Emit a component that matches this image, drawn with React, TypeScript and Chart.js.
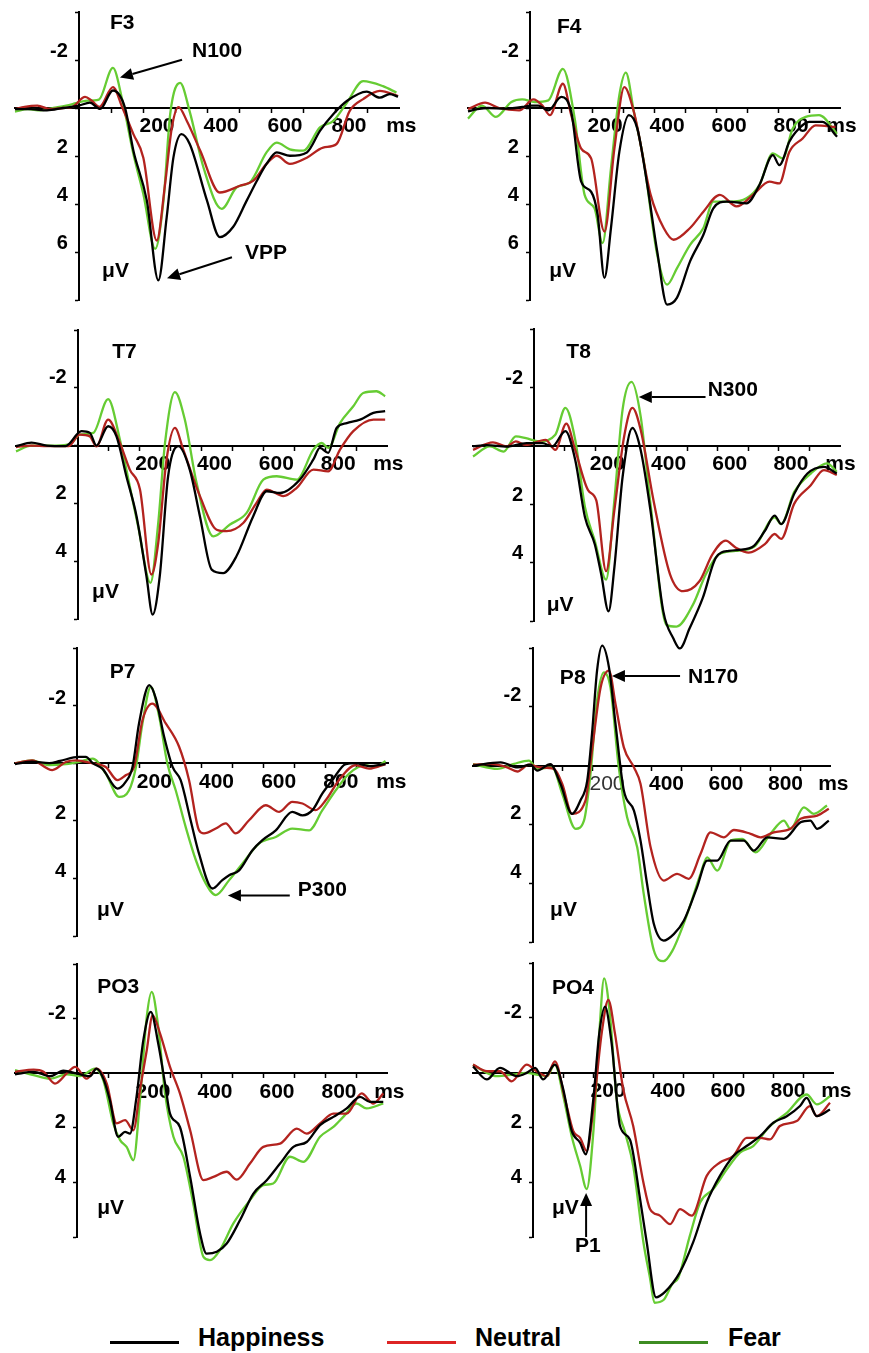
import React, { useEffect, useRef } from "react";
import { Chart, registerables } from "chart.js";

Chart.register(...registerables);

const FONT = "'Liberation Sans', Arial, Helvetica, sans-serif";

// ---------- series / legend ----------
const SERIES_NAMES = ["Happiness", "Neutral", "Fear"];
const LINE_COLORS = ["#000000", "#b3231f", "#66cc33"];
const LEGEND_COLORS = ["#000000", "#dd2424", "#3d8c22"];

// ---------- tick labels ----------
const X_TICK_LABELS: Record<number, string> = { 200: "200", 400: "400", 600: "600", 800: "800", 1000: "ms    " };
const Y_TICK_LABELS_F = [-2, 2, 4, 6];
const Y_TICK_LABELS = [-2, 2, 4];

type Pt = [number, number]; // [time ms, amplitude µV]

// ---------- F3 ----------
const F3_happiness: Pt[] = [[-200,0.05],[-150,0.05],[-100,0.1],[-50,0],[0,-0.1],[34,-0.22],[66,0.04],[106,-0.73],[144,0],[170,1.78],[212,3.86],[248,7.18],[274,4.56],[295,2.07],[320,1.09],[346,1.5],[400,3.86],[440,5.38],[482,4.95],[524,3.86],[556,3.03],[586,2.33],[618,1.85],[659,1.99],[712,1.85],[753,0.95],[795,0.25],[837,-0.29],[899,-0.68],[940,-0.43],[971,-0.58],[997,-0.47]];
const F3_neutral: Pt[] = [[-200,0.05],[-170,-0.05],[-130,-0.1],[-90,0.05],[-50,0],[-20,-0.05],[19,-0.46],[40,-0.3],[64,-0.05],[106,-0.87],[136,0],[170,1.09],[201,2.07],[243,5.52],[269,3.17],[290,0.82],[311,-0.04],[337,0.54],[379,1.78],[440,3.52],[503,3.24],[545,3.03],[586,2.33],[618,1.99],[659,2.33],[712,2.07],[763,1.65],[805,1.5],[846,0.12],[888,-0.37],[940,-0.71],[997,-0.5]];
const F3_fear: Pt[] = [[-200,0.15],[-160,0.05],[-120,0.1],[-80,0],[-40,-0.1],[-10,-0.2],[20,-0.3],[62,-0.35],[106,-1.67],[136,-0.29],[170,1.92],[201,3.58],[238,5.87],[264,3.86],[285,0.25],[316,-1.05],[346,0.15],[389,2.48],[446,4.2],[493,3.3],[534,3.1],[586,1.85],[618,1.44],[659,1.72],[701,1.78],[753,0.81],[795,0.54],[837,-0.22],[888,-1.12],[950,-0.91],[992,-0.64]];

// ---------- F4 ----------
const F4_happiness: Pt[] = [[-200,0.14],[-170,0.05],[-135,0],[-80,0.03],[-20,-0.05],[0,-0.1],[27,-0.1],[59,0.1],[101,-0.46],[133,0.17],[165,3.07],[197,3.49],[218,4.45],[240,7.08],[261,5.0],[288,1.83],[319,0.3],[346,0.86],[378,3.2],[410,5.97],[442,8.19],[474,7.9],[516,6.39],[559,5.28],[591,4.18],[634,3.9],[698,3.97],[740,3.2],[783,1.96],[804,2.38],[836,1.41],[857,1.0],[900,0.58],[943,0.58],[990,1.2]];
const F4_neutral: Pt[] = [[-200,0.05],[-145,-0.22],[-100,0],[-35,0.1],[11,-0.36],[40,-0.1],[64,0.3],[106,-1.01],[133,0.3],[165,1.69],[197,2.1],[240,5.15],[272,1.69],[304,-0.87],[335,0.17],[389,3.62],[431,5.0],[463,5.49],[516,5.0],[559,4.32],[612,3.62],[666,4.1],[719,3.62],[772,3.07],[804,3.14],[836,1.83],[879,1.27],[921,0.72],[985,0.79]];
const F4_fear: Pt[] = [[-200,0.44],[-155,-0.1],[-110,0.37],[-60,-0.25],[-25,-0.36],[15,-0.25],[59,-0.32],[106,-1.63],[144,0.44],[176,3.62],[208,4.18],[234,5.63],[261,2.52],[288,-0.53],[309,-1.47],[335,0.17],[367,2.24],[410,6.11],[442,7.36],[474,6.67],[516,5.7],[559,5.0],[591,3.9],[644,3.9],[698,3.76],[740,3.2],[783,1.89],[815,2.1],[847,0.86],[889,0.37],[932,0.3],[990,1.07]];

// ---------- T7 ----------
const T7_happiness: Pt[] = [[-200,0.02],[-150,-0.1],[-100,0],[-40,0.02],[12,-0.5],[39,-0.44],[60,0],[98,-0.67],[125,-0.32],[157,1.06],[190,2.45],[222,4.52],[242,5.85],[265,4.52],[292,1.06],[325,0.02],[362,0.83],[395,2.45],[433,4.29],[470,4.41],[513,3.83],[567,2.45],[611,1.58],[654,1.64],[718,1.18],[762,0.48],[783,0.08],[810,0.25],[837,-0.61],[870,-0.78],[913,-0.9],[956,-1.13],[994,-1.19]];
const T7_neutral: Pt[] = [[-200,0.05],[-150,0],[-100,0.02],[-30,0.02],[6,-0.38],[39,-0.32],[60,0.03],[98,-0.9],[136,-0.09],[168,0.83],[201,1.52],[238,4.46],[260,3.37],[287,0.48],[314,-0.61],[341,0.14],[395,1.75],[449,2.91],[481,2.96],[535,2.68],[578,1.98],[611,1.52],[665,1.75],[708,1.46],[762,0.83],[810,0.89],[848,0.14],[891,-0.5],[956,-0.9],[994,-0.9]];
const T7_fear: Pt[] = [[-200,0.2],[-150,0],[-70,0],[-25,-0.05],[6,-0.38],[50,-0.44],[98,-1.61],[136,-0.21],[168,1.41],[195,2.79],[235,4.75],[260,2.68],[282,-0.09],[314,-1.85],[346,-0.9],[384,1.29],[438,3.14],[492,2.73],[546,2.33],[600,1.18],[643,1.06],[708,1.18],[762,0.14],[789,-0.09],[810,0.08],[848,-0.78],[891,-1.36],[923,-1.82],[966,-1.88],[994,-1.71]];

// ---------- T8 ----------
const T8_happiness: Pt[] = [[-200,0.02],[-155,-0.02],[-90,0.03],[-25,-0.09],[27,-0.09],[59,0.02],[102,-0.5],[134,0.48],[166,2.45],[198,3.37],[219,4.4],[243,5.67],[262,4.17],[289,1.06],[321,-0.61],[348,0.14],[380,2.21],[422,5.67],[455,6.6],[476,6.94],[508,6.25],[551,5.21],[594,3.83],[636,3.6],[711,3.48],[754,2.91],[786,2.39],[807,2.68],[850,1.64],[893,0.95],[947,0.72],[989,0.95]];
const T8_neutral: Pt[] = [[-200,0.14],[-135,-0.12],[-90,0.02],[-60,-0.15],[-27,-0.03],[37,-0.2],[69,0.14],[105,-0.76],[134,0.14],[176,1.52],[203,1.87],[235,4.29],[262,2.21],[294,-0.32],[321,-1.3],[348,-0.55],[390,1.87],[444,4.4],[487,4.98],[540,4.64],[583,3.71],[626,3.25],[658,3.48],[701,3.66],[754,3.37],[786,3.02],[807,3.19],[850,1.98],[904,1.35],[947,0.83],[989,1.0]];
const T8_fear: Pt[] = [[-200,0.37],[-145,0.02],[-100,0.2],[-60,-0.32],[-27,-0.26],[16,-0.15],[69,-0.38],[102,-1.3],[134,-0.21],[166,2.1],[198,3.25],[235,4.58],[262,1.87],[289,-1.25],[318,-2.19],[348,-1.01],[380,1.98],[433,6.14],[465,6.19],[519,5.44],[561,4.4],[604,3.71],[658,3.6],[722,3.43],[786,2.45],[807,2.68],[850,1.58],[904,0.95],[957,0.6],[989,0.89]];

// ---------- P7 ----------
const P7_happiness: Pt[] = [[-200,0.03],[-145,-0.05],[-90,0],[-55,-0.08],[6,-0.22],[28,-0.22],[50,0],[81,0.19],[130,0.88],[156,0.65],[178,0.13],[199,-1.38],[232,-2.71],[253,-2.25],[280,-0.91],[307,0.13],[333,0.59],[365,1.98],[392,3.14],[435,4.35],[467,4.06],[489,3.89],[521,3.72],[564,3.02],[596,2.67],[639,2.33],[692,1.69],[725,1.81],[757,1.63],[789,1.05],[821,0.59],[864,0.03],[896,0],[939,0.1],[992,0.03]];
const P7_neutral: Pt[] = [[-200,0.01],[-145,-0.1],[-80,0.24],[-35,-0.05],[-4,-0.1],[50,0.01],[92,0.13],[130,0.59],[156,0.42],[183,0.13],[210,-1.49],[242,-2.07],[285,-1.38],[328,-0.57],[360,0.59],[392,2.33],[408,2.44],[446,2.27],[478,2.09],[510,2.44],[553,1.98],[607,1.46],[650,1.69],[692,1.34],[725,1.4],[767,1.63],[800,1.28],[842,0.59],[896,0.07],[939,0.19],[992,0.03]];
const P7_fear: Pt[] = [[-200,0.01],[-145,-0.1],[-90,0.07],[-36,0.03],[6,-0.05],[50,-0.16],[92,0.36],[135,1.17],[167,0.94],[189,0.13],[210,-1.38],[237,-2.65],[264,-1.61],[290,0],[317,0.94],[349,2.21],[382,3.37],[414,4.18],[446,4.58],[489,4.06],[532,3.48],[585,2.79],[639,2.56],[692,2.27],[746,2.33],[789,1.63],[832,0.94],[875,0.36],[928,0.07],[960,0.13],[992,-0.08]];

// ---------- P8 ----------
const P8_happiness: Pt[] = [[-200,0],[-107,-0.11],[-50,0.06],[-7,-0.03],[16,0.17],[60,-0.05],[94,0.62],[133,1.64],[161,1.19],[184,0.51],[200,-1.08],[217,-3.23],[234,-4.08],[257,-3.34],[279,-1.42],[307,0.85],[341,1.53],[363,2.55],[385,4.02],[408,5.39],[441,5.95],[475,5.73],[509,5.27],[553,4.14],[587,3.23],[621,3.23],[666,2.55],[710,2.55],[744,2.89],[789,2.44],[845,2.49],[901,1.93],[934,1.87],[957,2.15],[996,1.87]];
const P8_neutral: Pt[] = [[-200,-0.03],[-141,-0.06],[-85,0.06],[-51,0.2],[-12,-0.03],[27,0.06],[72,0.11],[100,0.62],[133,1.64],[178,1.19],[200,-0.51],[229,-2.66],[257,-3.23],[279,-2.1],[307,-0.62],[341,0.06],[363,0.62],[397,2.78],[441,3.91],[486,3.68],[525,3.85],[565,3.0],[598,2.27],[643,2.44],[677,2.19],[733,2.32],[766,2.44],[811,2.27],[867,2.15],[901,1.81],[957,1.7],[996,1.47]];
const P8_fear: Pt[] = [[-200,-0.05],[-118,0.11],[-62,-0.06],[-12,-0.17],[16,0.11],[66,0.06],[100,0.96],[145,2.15],[173,1.87],[195,0.28],[217,-2.21],[240,-3.17],[262,-2.66],[290,0.06],[318,1.76],[352,2.78],[374,4.37],[408,6.29],[440,6.65],[470,6.3],[520,5.05],[565,3.68],[587,3.12],[621,3.57],[666,2.55],[705,2.49],[750,2.95],[800,2.32],[845,1.87],[867,2.15],[912,1.42],[946,1.64],[990,1.36]];

// ---------- PO3 ----------
const PO3_happiness: Pt[] = [[-200,0.04],[-140,-0.05],[-87,0.11],[-44,-0.09],[-1,0.01],[42,0.11],[63,-0.17],[85,0.2],[106,0.99],[133,2.33],[155,2.15],[171,2.21],[192,0.87],[214,-1.21],[238,-2.25],[262,-1.09],[284,0.38],[300,1.48],[332,1.97],[365,3.8],[397,5.87],[418,6.61],[451,6.54],[483,6.24],[526,5.38],[569,4.41],[612,3.92],[655,3.31],[698,2.7],[741,2.52],[784,1.9],[827,1.6],[870,1.29],[913,0.87],[945,1.05],[988,1.05]];
const PO3_neutral: Pt[] = [[-200,-0.05],[-140,-0.13],[-108,-0.05],[-71,0.38],[-33,0.01],[-6,-0.23],[31,0.2],[63,-0.17],[96,0.38],[128,1.84],[155,1.72],[182,2.09],[203,0.62],[225,-0.84],[244,-2.12],[268,-1.45],[300,-0.23],[332,0.74],[365,2.09],[408,3.92],[440,3.8],[483,3.61],[515,3.9],[558,3.31],[601,2.7],[655,2.58],[709,2.03],[741,2.21],[784,1.84],[827,1.48],[870,1.48],[918,0.74],[956,1.11],[988,0.74]];
const PO3_fear: Pt[] = [[-200,-0.11],[-140,0.07],[-87,0.2],[-33,0.04],[10,0.11],[58,-0.17],[85,0.26],[117,1.84],[139,2.45],[160,2.7],[182,3.19],[203,0.99],[225,-2.06],[241,-2.98],[262,-1.7],[284,0.74],[311,2.33],[343,3.06],[375,4.77],[408,6.73],[429,6.85],[461,6.48],[504,5.51],[558,4.65],[601,4.1],[633,4.04],[687,3.06],[730,3.25],[784,2.33],[827,1.97],[859,1.6],[902,1.11],[934,1.29],[988,1.11]];

// ---------- PO4 ----------
const PO4_happiness: Pt[] = [[-200,-0.23],[-154,0.25],[-110,-0.17],[-54,0.13],[-21,0.01],[7,-0.17],[34,0.25],[73,-0.29],[101,0.62],[129,2.13],[157,2.56],[176,2.98],[201,0.98],[221,-1.44],[240,-2.41],[262,-1.08],[290,1.95],[323,2.44],[357,4.62],[379,6.19],[410,8.2],[440,8.0],[490,7.28],[534,6.19],[579,4.74],[623,3.77],[668,3.04],[712,2.68],[757,2.32],[801,1.83],[846,1.59],[890,1.22],[912,0.92],[946,1.59],[990,1.35]];
const PO4_neutral: Pt[] = [[-200,-0.29],[-154,-0.05],[-110,-0.05],[-71,0.32],[-21,-0.29],[12,-0.05],[46,0.13],[73,-0.41],[107,0.98],[134,2.13],[157,2.38],[179,2.86],[201,1.35],[229,-1.44],[251,-2.65],[273,-1.44],[301,0.62],[334,1.95],[368,4.01],[390,4.98],[423,5.22],[457,5.53],[490,4.98],[529,5.22],[579,3.77],[623,3.28],[668,3.04],[712,2.38],[757,2.38],[790,2.44],[823,1.95],[879,1.77],[923,1.22],[946,1.59],[990,1.1]];
const PO4_fear: Pt[] = [[-200,-0.29],[-154,0.01],[-121,0.13],[-66,0.07],[-21,0.01],[12,0.07],[46,0.13],[73,-0.29],[101,0.86],[129,2.32],[157,3.4],[179,4.25],[201,2.19],[221,-1.44],[237,-3.44],[257,-2.05],[279,0.98],[307,2.19],[334,3.4],[368,6.19],[390,7.5],[405,8.4],[435,8.3],[465,7.7],[484,7.5],[523,5.95],[557,4.74],[601,4.25],[646,3.53],[690,2.92],[734,2.68],[790,1.95],[846,1.47],[912,0.8],[946,1.16],[990,0.86]];

// ---------- annotations (data coordinates) ----------
type Annot =
  | { kind: "text"; t: number; v: number; text: string }
  | { kind: "arrow"; t1: number; v1: number; t2: number; v2: number };

type PanelCfg = {
  id: string;
  series: Pt[][];
  yMax: number;
  yLabels: number[];
  canvas: { x: number; y: number; w: number; h: number };
  area: { l: number; r: number; t: number; b: number };
  yShift: number;
  xShift: number;
  thin200?: boolean;
  annots: Annot[];
};

const PANELS: PanelCfg[] = [
  {
    id: "F3", series: [F3_happiness, F3_neutral, F3_fear], yMax: 8, yLabels: Y_TICK_LABELS_F,
    canvas: { x: 0, y: 0, w: 435, h: 325 }, area: { l: 15, r: 399, t: 10, b: 300 }, yShift: -9, xShift: 14,
    annots: [
      { kind: "text", t: 97, v: -3.52, text: "F3" },
      { kind: "text", t: 353, v: -2.37, text: "N100" },
      { kind: "arrow", t1: 322, v1: -2.01, t2: 128, v2: -1.27 },
      { kind: "text", t: 519, v: 6.07, text: "VPP" },
      { kind: "arrow", t1: 478, v1: 6.22, t2: 275, v2: 7.09 },
      { kind: "text", t: 72, v: 6.78, text: "μV" },
    ],
  },
  {
    id: "F4", series: [F4_happiness, F4_neutral, F4_fear], yMax: 8, yLabels: Y_TICK_LABELS_F,
    canvas: { x: 435, y: 0, w: 434, h: 325 }, area: { l: 468, r: 844, t: 10, b: 300 }, yShift: -9, xShift: 13,
    annots: [
      { kind: "text", t: 87, v: -3.36, text: "F4" },
      { kind: "text", t: 62, v: 6.82, text: "μV" },
    ],
  },
  {
    id: "T7", series: [T7_happiness, T7_neutral, T7_fear], yMax: 6, yLabels: Y_TICK_LABELS,
    canvas: { x: 0, y: 310, w: 435, h: 350 }, area: { l: 16, r: 387, t: 330, b: 619 }, yShift: -10, xShift: 13,
    annots: [
      { kind: "text", t: 111, v: -3.22, text: "T7" },
      { kind: "text", t: 46, v: 5.08, text: "μV" },
    ],
  },
  {
    id: "T8", series: [T8_happiness, T8_neutral, T8_fear], yMax: 6, yLabels: Y_TICK_LABELS,
    canvas: { x: 435, y: 310, w: 434, h: 350 }, area: { l: 473, r: 847, t: 329, b: 621 }, yShift: -9, xShift: 12,
    annots: [
      { kind: "text", t: 105, v: -3.2, text: "T8" },
      { kind: "text", t: 567, v: -1.91, text: "N300" },
      { kind: "arrow", t1: 560, v1: -1.67, t2: 342, v2: -1.67 },
      { kind: "text", t: 41, v: 5.47, text: "μV" },
    ],
  },
  {
    id: "P7", series: [P7_happiness, P7_neutral, P7_fear], yMax: 6, yLabels: Y_TICK_LABELS,
    canvas: { x: 0, y: 636, w: 435, h: 340 }, area: { l: 15, r: 388, t: 646, b: 936 }, yShift: -7, xShift: 15,
    annots: [
      { kind: "text", t: 105, v: -3.16, text: "P7" },
      { kind: "text", t: 710, v: 4.41, text: "P300" },
      { kind: "arrow", t1: 684, v1: 4.59, t2: 485, v2: 4.59 },
      { kind: "text", t: 64, v: 5.12, text: "μV" },
    ],
  },
  {
    id: "P8", series: [P8_happiness, P8_neutral, P8_fear], yMax: 6, yLabels: Y_TICK_LABELS,
    canvas: { x: 435, y: 636, w: 434, h: 340 }, area: { l: 473, r: 830, t: 647, b: 942 }, yShift: -11, xShift: 15, thin200: true,
    annots: [
      { kind: "text", t: 92, v: -2.97, text: "P8" },
      { kind: "text", t: 523, v: -3.0, text: "N170" },
      { kind: "arrow", t1: 496, v1: -3.05, t2: 267, v2: -3.05 },
      { kind: "text", t: 59, v: 4.93, text: "μV" },
    ],
  },
  {
    id: "PO3", series: [PO3_happiness, PO3_neutral, PO3_fear], yMax: 6, yLabels: Y_TICK_LABELS,
    canvas: { x: 0, y: 950, w: 435, h: 365 }, area: { l: 15, r: 387, t: 964, b: 1237 }, yShift: -5, xShift: 14,
    annots: [
      { kind: "text", t: 65, v: -3.14, text: "PO3" },
      { kind: "text", t: 65, v: 4.96, text: "μV" },
    ],
  },
  {
    id: "PO4", series: [PO4_happiness, PO4_neutral, PO4_fear], yMax: 6, yLabels: Y_TICK_LABELS,
    canvas: { x: 435, y: 950, w: 434, h: 365 }, area: { l: 473, r: 833, t: 963, b: 1237 }, yShift: -5, xShift: 15,
    annots: [
      { kind: "text", t: 63, v: -3.07, text: "PO4" },
      { kind: "text", t: 63, v: 4.96, text: "μV" },
      { kind: "text", t: 140, v: 6.33, text: "P1" },
      { kind: "arrow", t1: 177, v1: 6.0, t2: 177, v2: 4.39 },
    ],
  },
];

function makeAnnotPlugin(annots: Annot[]) {
  return {
    id: "erpAnnots",
    afterDraw(chart: any) {
      const ctx = chart.ctx as CanvasRenderingContext2D;
      const xs = chart.scales.x;
      const ys = chart.scales.y;
      ctx.save();
      ctx.fillStyle = "#000";
      ctx.strokeStyle = "#000";
      for (const a of annots) {
        if (a.kind === "text") {
          ctx.font = `bold 21px ${FONT}`;
          ctx.textAlign = "left";
          ctx.textBaseline = "middle";
          ctx.fillText(a.text, xs.getPixelForValue(a.t), ys.getPixelForValue(a.v));
        } else {
          const x1 = xs.getPixelForValue(a.t1), y1 = ys.getPixelForValue(a.v1);
          const x2 = xs.getPixelForValue(a.t2), y2 = ys.getPixelForValue(a.v2);
          const ang = Math.atan2(y2 - y1, x2 - x1);
          const hl = 13, hw = 6;
          const bx = x2 - hl * Math.cos(ang), by = y2 - hl * Math.sin(ang);
          ctx.lineWidth = 2;
          ctx.beginPath();
          ctx.moveTo(x1, y1);
          ctx.lineTo(bx, by);
          ctx.stroke();
          ctx.beginPath();
          ctx.moveTo(x2, y2);
          ctx.lineTo(bx + hw * Math.sin(ang), by - hw * Math.cos(ang));
          ctx.lineTo(bx - hw * Math.sin(ang), by + hw * Math.cos(ang));
          ctx.closePath();
          ctx.fill();
        }
      }
      ctx.restore();
    },
  };
}

function Panel({ p }: { p: PanelCfg }) {
  const ref = useRef<HTMLCanvasElement | null>(null);
  useEffect(() => {
    const canvas = ref.current;
    if (!canvas) return;
    const { canvas: c, area } = p;
    const chart = new Chart(canvas, {
      type: "line",
      data: {
        datasets: p.series.map((s, i) => ({
          label: SERIES_NAMES[i],
          data: s.map(([x, y]) => ({ x, y })),
          borderColor: LINE_COLORS[i],
          backgroundColor: LINE_COLORS[i],
          borderWidth: 2.3,
          pointRadius: 0,
          cubicInterpolationMode: "monotone",
          fill: false,
          clip: false,
        })),
      },
      options: {
        responsive: false,
        maintainAspectRatio: false,
        animation: false,
        devicePixelRatio: 1,
        events: [],
        layout: {
          padding: {
            left: area.l - c.x,
            right: c.x + c.w - area.r,
            top: area.t - c.y,
            bottom: c.y + c.h - area.b,
          },
        },
        plugins: { legend: { display: false }, tooltip: { enabled: false } },
        scales: {
          x: {
            type: "linear",
            min: -200,
            max: 1000,
            position: { y: 0 },
            afterFit: (s: any) => { s.height = 0; },
            border: { display: true, color: "#000", width: 2 },
            grid: {
              drawOnChartArea: false,
              drawTicks: true,
              tickLength: 4,
              tickWidth: 1.5,
              tickColor: (ctx: any) =>
                ctx.tick && ctx.tick.value > 0 && ctx.tick.value < 1000 ? "#000" : "rgba(0,0,0,0)",
            },
            ticks: {
              stepSize: 100,
              autoSkip: false,
              maxRotation: 0,
              minRotation: 0,
              padding: 2,
              labelOffset: p.xShift,
              color: (ctx: any) => (p.thin200 && ctx.tick && ctx.tick.value === 200 ? "#333" : "#000"),
              font: (ctx: any) =>
                p.thin200 && ctx.tick && ctx.tick.value === 200
                  ? { family: FONT, size: 21, weight: "normal" }
                  : { family: FONT, size: 21, weight: "bold" },
              callback: (v: any) => X_TICK_LABELS[Number(v)] ?? "",
            },
          },
          y: {
            type: "linear",
            min: -4,
            max: p.yMax,
            reverse: true,
            position: { x: 0 },
            afterFit: (s: any) => { s.width = 0; },
            border: { display: true, color: "#000", width: 2 },
            grid: { drawOnChartArea: false, drawTicks: true, tickLength: 3, tickWidth: 1.5, tickColor: "#000" },
            ticks: {
              stepSize: 2,
              autoSkip: false,
              padding: 0,
              labelOffset: p.yShift,
              color: "#000",
              font: { family: FONT, size: 20, weight: "bold" },
              callback: (v: any) => (p.yLabels.includes(Number(v)) ? `${v}  ` : ""),
            },
          },
        },
      } as any,
      plugins: [makeAnnotPlugin(p.annots)],
    });
    return () => chart.destroy();
  }, [p]);
  return (
    <canvas
      ref={ref}
      width={p.canvas.w}
      height={p.canvas.h}
      style={{ position: "absolute", left: p.canvas.x, top: p.canvas.y, width: p.canvas.w, height: p.canvas.h }}
    />
  );
}

const LEGEND_LINE_X = [110, 387, 639];
const LEGEND_TEXT_X = [198, 475, 728];

export default function App() {
  return (
    <div style={{ position: "absolute", left: 0, top: 0, width: 869, height: 1353, background: "#fff", overflow: "hidden" }}>
      {PANELS.map((p) => (
        <Panel key={p.id} p={p} />
      ))}
      {SERIES_NAMES.map((name, i) => (
        <React.Fragment key={name}>
          <div
            style={{
              position: "absolute",
              left: LEGEND_LINE_X[i],
              top: 1341,
              width: 69,
              height: 3,
              background: LEGEND_COLORS[i],
            }}
          />
          <div
            style={{
              position: "absolute",
              left: LEGEND_TEXT_X[i],
              top: 1325,
              fontFamily: FONT,
              fontWeight: "bold",
              fontSize: 25,
              lineHeight: "25px",
              color: "#000",
              whiteSpace: "nowrap",
            }}
          >
            {name}
          </div>
        </React.Fragment>
      ))}
    </div>
  );
}
